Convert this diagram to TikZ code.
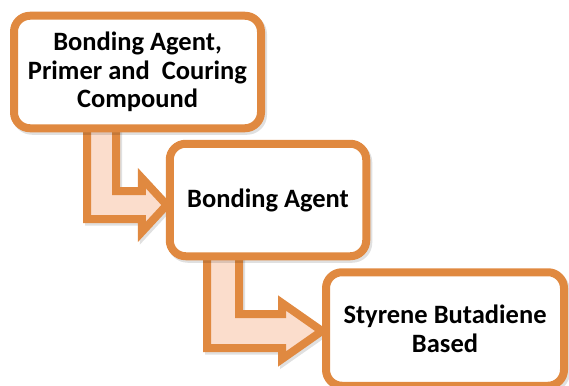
\documentclass[tikz,border=0pt]{standalone}
\usepackage{fontspec}
\setmainfont{Carlito}
\usetikzlibrary{calc,shadows,backgrounds}
\definecolor{boxorange}{RGB}{224,137,64}
\definecolor{peach}{RGB}{251,221,204}
\begin{document}
\begin{tikzpicture}[x=1pt,y=-1pt,
  softshadow/.style={general shadow={draw=black, line width=8pt, opacity=0.12, shadow xshift=2pt, shadow yshift=-2.5pt}},
  box/.style={draw=boxorange, line width=8pt, rounded corners=16pt, fill=white,
    align=center, inner sep=0pt, softshadow,
    font=\fontsize{26.5}{28.5}\selectfont\bfseries},
  blockarrow/.style={draw=boxorange, fill=peach, line width=8pt, line join=miter, softshadow}]
\useasboundingbox (0,0) rectangle (569,385);
\node[box, minimum width=247pt, minimum height=112.5pt] (b1) at (137.5,72)
  {Bonding Agent,\\Primer and~~Couring\\Compound};
\node[box, minimum width=196.5pt, minimum height=112.5pt] (b2) at (268,200)
  {Bonding Agent};
\node[box, minimum width=238pt, minimum height=113.5pt] (b3) at (445,329)
  {Styrene Butadiene\\Based};
\coordinate (t1) at ($(b2.west)+(1,5)$);
\coordinate (t2) at ($(b3.west)+(0,2)$);
\begin{scope}[on background layer]
\draw[blockarrow] ($(b1.south)+(-50.5,-12)$) |- ($(t1)+(-25,14)$) -- ++(0,13) -- (t1)
  -- ($(t1)+(-25,-27)$) -- ++(0,13) -| ($(b1.south)+(-21.5,-12)$) -- cycle;
\draw[blockarrow] ($(b2.south)+(-61,-12)$) |- ($(t2)+(-40,17)$) -- ++(0,11) -- (t2)
  -- ($(t2)+(-40,-28)$) -- ++(0,11) -| ($(b2.south)+(-29,-12)$) -- cycle;
\end{scope}
\end{tikzpicture}
\end{document}
